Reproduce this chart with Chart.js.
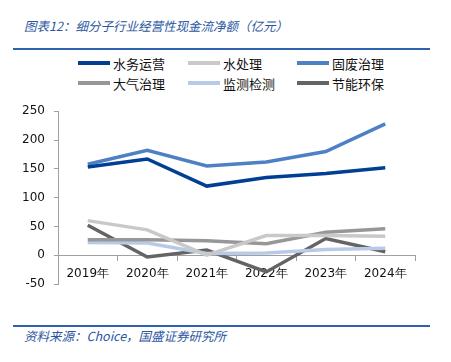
<!DOCTYPE html>
<html>
<head>
<meta charset="utf-8">
<script src="https://cdn.jsdelivr.net/npm/chart.js@4/dist/chart.umd.min.js"></script>
<style>
    body { margin: 0; background: #fff; width: 451px; height: 362px; position: relative; overflow: hidden; font-family: "DejaVu Sans", "Noto Sans CJK SC", sans-serif; }
    .title { position: absolute; left: 24px; top: 16px; font-size: 12.5px; font-style: italic; color: #2a56a0; font-family: "Noto Sans CJK SC", sans-serif; white-space: nowrap; }
    .rule { position: absolute; left: 13px; width: 417px; height: 2px; background: #2e62b0; }
    .source { position: absolute; left: 24px; top: 326px; font-size: 12.5px; font-style: italic; color: #2a56a0; font-family: "Noto Sans CJK SC", sans-serif; white-space: nowrap; }
    .legend { position: absolute; left: 0; top: 0; }
    .legend-item { position: absolute; height: 18px; display: flex; align-items: center; font-size: 13px; color: #111; font-family: "Noto Sans CJK SC", sans-serif; white-space: nowrap; }
    .legend-item span.swatch { display: inline-block; width: 32px; height: 4px; margin-right: 3px; }
    #chartWrap { position: absolute; left: 0; top: 95px; width: 451px; height: 210px; }
</style>
</head>
<body>
<div class="title">图表12：细分子行业经营性现金流净额（亿元）</div>
<div class="rule" style="top:48px"></div>
<div class="legend" id="legend"></div>
<div id="chartWrap"><canvas id="cashChart"></canvas></div>
<div class="rule" style="top:325px"></div>
<div class="source">资料来源：Choice，国盛证券研究所</div>

<script>
const years = ['2019年', '2020年', '2021年', '2022年', '2023年', '2024年'];
const seriesNames = ['水务运营', '水处理', '固废治理', '大气治理', '监测检测', '节能环保'];
const seriesColors = ['#003f93', '#c9c9c9', '#4d80c4', '#979797', '#b7cbe8', '#646464'];

const waterOps = [153, 167, 120, 135, 142, 152];
const waterTreat = [60, 44, 0, 34, 34, 33];
const solidWaste = [158, 182, 155, 162, 180, 228];
const airGov = [27, 27, 25, 20, 40, 46];
const monitoring = [22, 21, 3, 4, 10, 12];
const energySave = [52, -3, 9, -29, 29, 6];

const yTicks = [-50, 0, 50, 100, 150, 200, 250];

const seriesData = [waterOps, waterTreat, solidWaste, airGov, monitoring, energySave];

function buildLegend() {
    const legend = document.getElementById('legend');
    const colX = [78, 188, 297];
    const rowY = [54, 74];
    seriesNames.forEach((name, i) => {
        const item = document.createElement('div');
        item.className = 'legend-item';
        item.style.left = colX[i % 3] + 'px';
        item.style.top = rowY[Math.floor(i / 3)] + 'px';
        item.innerHTML = `<span class="swatch" style="background:${seriesColors[i]}"></span>${name}`;
        legend.appendChild(item);
    });
}

function createChart() {
    const ctx = document.getElementById('cashChart').getContext('2d');
    const datasets = seriesNames.map((name, i) => ({
        label: name,
        data: seriesData[i],
        borderColor: seriesColors[i],
        backgroundColor: seriesColors[i],
        borderWidth: 3.5,
        pointRadius: 0,
        tension: 0,
        fill: false
    }));

    new Chart(ctx, {
        type: 'line',
        data: { labels: years, datasets: datasets },
        options: {
            responsive: true,
            maintainAspectRatio: false,
            animation: false,
            layout: { padding: { left: 0, right: 36, top: 16, bottom: 21 } },
            plugins: {
                legend: { display: false },
                tooltip: { enabled: false }
            },
            scales: {
                x: {
                    offset: true,
                    position: { y: 0 },
                    grid: {
                        offset: true,
                        drawOnChartArea: false,
                        drawTicks: true,
                        tickLength: 5,
                        color: '#a0a0a0'
                    },
                    border: { color: '#a0a0a0', width: 1 },
                    ticks: {
                        color: '#111',
                        font: { family: 'DejaVu Sans', size: 12 },
                        padding: 6,
                        maxRotation: 0
                    }
                },
                y: {
                    min: -50,
                    max: 250,
                    afterBuildTicks: scale => {
                        scale.ticks = yTicks.map(v => ({ value: v }));
                    },
                    afterFit: scale => { scale.width = 58; },
                    grid: {
                        drawOnChartArea: false,
                        drawTicks: true,
                        tickLength: 4,
                        color: '#a0a0a0'
                    },
                    border: { color: '#a0a0a0', width: 1 },
                    ticks: {
                        color: '#111',
                        font: { family: 'DejaVu Sans', size: 12 },
                        padding: 9
                    }
                }
            }
        }
    });
}

buildLegend();
createChart();
</script>
</body>
</html>
